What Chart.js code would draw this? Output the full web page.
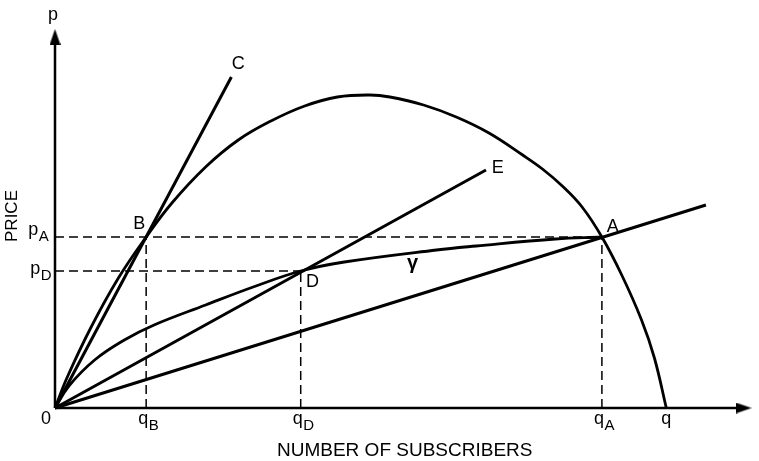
<!DOCTYPE html>
<html lang="en">
<head>
    <meta charset="UTF-8">
    <title>Price vs Number of Subscribers</title>
    <script src="https://cdn.jsdelivr.net/npm/chart.js@4"></script>
    <style>
        body {
            margin: 0;
            background-color: white;
        }
        canvas {
            display: block;
        }
    </style>
</head>
<body>
    <canvas id="chart" width="759" height="461"></canvas>

    <script>
        // Big demand hump (0 -> B -> top -> A -> q)
        const humpX = [0, 12, 36, 64, 92, 118, 152, 185, 218, 252, 285, 318, 338, 372, 405, 438, 472, 492, 512, 532, 552, 572, 592, 605, 617];
        const humpY = [0, 30, 80, 130, 171, 205, 241, 268, 287, 302, 311, 313, 311, 303, 291, 275, 253, 239, 222, 201, 171, 133, 88, 50, 0];

        // gamma curve (0 -> D -> A)
        const gammaX = [0, 14, 40, 70, 100, 152, 200, 248, 292, 385, 425, 505, 552];
        const gammaY = [0, 22, 48, 68, 83, 103, 121, 137, 146, 158, 162, 169, 171];

        // rays from the origin: end points
        const rayC = [178, 331];
        const rayE = [435, 238];
        const rayA = [657, 203];

        // marked points
        const ptB = [92, 171];
        const ptD = [248, 137];
        const ptA = [552, 171];
        const qEnd = 617;

        const xMax = 704;
        const yMax = 388;

        const xy = (xs, ys) => xs.map((x, i) => ({ x: x, y: ys[i] }));

        // narrow arrow head used as point style
        function arrowHead() {
            const c = document.createElement('canvas');
            c.width = 11;
            c.height = 16;
            const g = c.getContext('2d');
            g.fillStyle = '#000';
            g.beginPath();
            g.moveTo(5.5, 0);
            g.lineTo(11, 16);
            g.lineTo(0, 16);
            g.closePath();
            g.fill();
            return c;
        }
        const arrow = arrowHead();

        const solid = (data, width) => ({
            data: data,
            borderColor: '#000',
            borderWidth: width,
            pointRadius: 0,
            fill: false,
            clip: false,
            tension: 0.4
        });
        const dashed = (data) => ({
            data: data,
            borderColor: '#000',
            borderWidth: 1.5,
            borderDash: [9, 5],
            pointRadius: 0,
            fill: false,
            clip: false
        });

        // text labels: [main, subscript, x, y] in data units
        const labels = [
            ['B', '', 85, 184],
            ['C', '', 185, 344],
            ['E', '', 447, 240],
            ['A', '', 563, 181],
            ['D', '', 260, 126],
            ['γ', '', 361, 145],
            ['0', '', -9, -11],
            ['q', 'B', ptB[0], -11],
            ['q', 'D', ptD[0], -11],
            ['q', 'A', ptA[0], -11],
            ['q', '', qEnd, -11],
            ['p', 'A', -19, 178],
            ['p', 'D', -17, 139],
            ['p', '', -2, 393]
        ];

        const textPlugin = {
            id: 'texts',
            afterDraw(chart) {
                const ctx = chart.ctx;
                const sx = chart.scales.x;
                const sy = chart.scales.y;
                ctx.save();
                ctx.fillStyle = '#000';
                ctx.textBaseline = 'middle';
                labels.forEach(([t, sub, x, y]) => {
                    const px = sx.getPixelForValue(x);
                    const py = sy.getPixelForValue(y);
                    ctx.font = (t === 'γ' ? 'bold 20px' : '18px') + ' "Liberation Sans", Arial, sans-serif';
                    ctx.textAlign = 'center';
                    const w = ctx.measureText(t).width;
                    const base = sub ? px - 3 : px;
                    ctx.fillText(t, base, py);
                    if (sub) {
                        ctx.font = '15px "Liberation Sans", Arial, sans-serif';
                        ctx.textAlign = 'left';
                        ctx.fillText(sub, base + w / 2 + 0.5, py + 7);
                    }
                });
                ctx.font = '19px "Liberation Sans", Arial, sans-serif';
                ctx.textAlign = 'center';
                ctx.fillText('NUMBER OF SUBSCRIBERS', sx.getPixelForValue(353), sy.getPixelForValue(-43));
                ctx.font = '17px "Liberation Sans", Arial, sans-serif';
                ctx.translate(sx.getPixelForValue(-43), sy.getPixelForValue(192));
                ctx.rotate(-Math.PI / 2);
                ctx.fillText('PRICE', 0, 0);
                ctx.restore();
            }
        };

        const yAxisSet = solid([{ x: 0, y: 0 }, { x: 0, y: 371 }], 2.5);
        yAxisSet.pointRadius = [0, 1];
        yAxisSet.pointStyle = arrow;
        const xAxisSet = solid([{ x: 0, y: 0 }, { x: 695, y: 0 }], 2.5);
        xAxisSet.pointRadius = [0, 1];
        xAxisSet.pointStyle = arrow;
        xAxisSet.pointRotation = 90;

        new Chart(document.getElementById('chart'), {
            type: 'line',
            data: {
                datasets: [
                    xAxisSet,
                    yAxisSet,
                    dashed([{ x: 0, y: ptA[1] }, { x: ptA[0], y: ptA[1] }]),
                    dashed([{ x: 0, y: ptD[1] }, { x: ptD[0], y: ptD[1] }]),
                    dashed([{ x: ptB[0], y: 0 }, { x: ptB[0], y: ptB[1] }]),
                    dashed([{ x: ptD[0], y: 0 }, { x: ptD[0], y: ptD[1] }]),
                    dashed([{ x: ptA[0], y: 0 }, { x: ptA[0], y: ptA[1] }]),
                    solid([{ x: 0, y: 0 }, { x: rayC[0], y: rayC[1] }], 3),
                    solid([{ x: 0, y: 0 }, { x: rayE[0], y: rayE[1] }], 3),
                    solid([{ x: 0, y: 0 }, { x: rayA[0], y: rayA[1] }], 3),
                    solid(xy(humpX, humpY), 2.8),
                    solid(xy(gammaX, gammaY), 2.8)
                ]
            },
            options: {
                responsive: false,
                animation: false,
                layout: { padding: { left: 55, right: 0, top: 20, bottom: 53 } },
                plugins: { legend: { display: false }, tooltip: { enabled: false } },
                scales: {
                    x: { type: 'linear', min: 0, max: xMax, display: false },
                    y: { type: 'linear', min: 0, max: yMax, display: false }
                }
            },
            plugins: [textPlugin]
        });
    </script>
</body>
</html>
